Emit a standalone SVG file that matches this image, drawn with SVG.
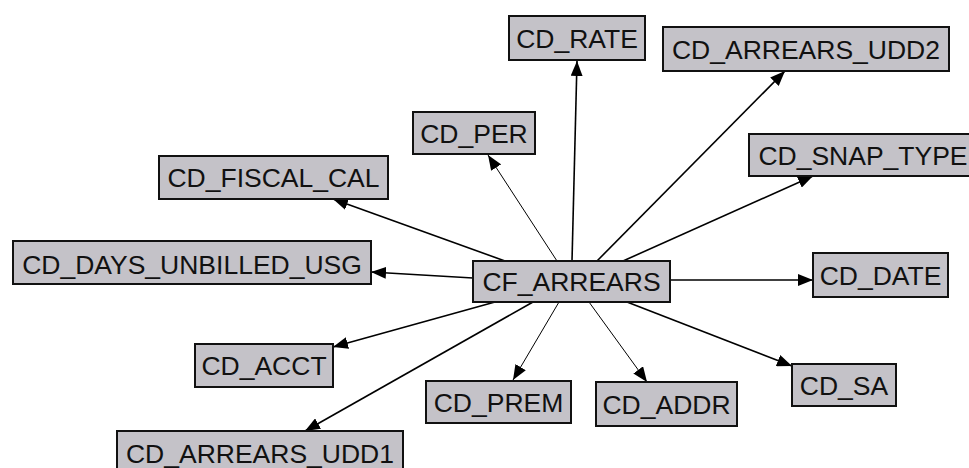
<svg xmlns="http://www.w3.org/2000/svg" width="969" height="468" viewBox="0 0 969 468">
<style>
.box{fill:#c4c2c8;stroke:#111;stroke-width:2}
.lbl{font-family:"Liberation Sans",Arial,sans-serif;font-size:26.5px;fill:#111;text-anchor:middle}
.e{stroke:#000;stroke-width:1.6;fill:none;marker-end:url(#ah)}
.t{stroke-width:1}
</style>
<defs>
<marker id="ah" markerUnits="userSpaceOnUse" markerWidth="16" markerHeight="12" refX="15" refY="6" orient="auto">
<path d="M0,0 L15,6 L0,12 z" fill="#000"/>
</marker>
</defs>
<rect width="969" height="468" fill="#fff"/>
<g id="edges">
<line class="e" x1="572" y1="261" x2="577" y2="61"/>
<line class="e t" x1="557" y1="261" x2="488" y2="155"/>
<line class="e" x1="597" y1="261" x2="785" y2="71"/>
<line class="e" x1="623" y1="261" x2="813" y2="176"/>
<line class="e" x1="505" y1="261" x2="333" y2="199"/>
<line class="e" x1="473" y1="278" x2="371" y2="272"/>
<line class="e" x1="670" y1="280" x2="813" y2="280"/>
<line class="e" x1="495" y1="302" x2="333" y2="347"/>
<line class="e" x1="533" y1="302" x2="305" y2="431"/>
<line class="e t" x1="559" y1="302" x2="513" y2="380"/>
<line class="e t" x1="589" y1="302" x2="647" y2="382"/>
<line class="e" x1="627" y1="302" x2="792" y2="366"/>
</g>
<g id="CF_ARREARS"><rect class="box" x="473" y="261" width="197" height="41"/><text class="lbl" x="571.5" y="291">CF_ARREARS</text></g>
<g id="CD_RATE"><rect class="box" x="509" y="16" width="136" height="44"/><text class="lbl" x="577" y="47.5">CD_RATE</text></g>
<g id="CD_ARREARS_UDD2"><rect class="box" x="663" y="27" width="286" height="44"/><text class="lbl" x="806" y="58.5">CD_ARREARS_UDD2</text></g>
<g id="CD_PER"><rect class="box" x="413" y="112" width="122" height="42"/><text class="lbl" x="474" y="142.5">CD_PER</text></g>
<g id="CD_SNAP_TYPE"><rect class="box" x="749" y="134" width="228" height="42"/><text class="lbl" x="863" y="164.5">CD_SNAP_TYPE</text></g>
<g id="CD_FISCAL_CAL"><rect class="box" x="159" y="156" width="229" height="43"/><text class="lbl" x="273.5" y="187">CD_FISCAL_CAL</text></g>
<g id="CD_DAYS_UNBILLED_USG"><rect class="box" x="13" y="241" width="358" height="43"/><text class="lbl" x="192" y="274">CD_DAYS_UNBILLED_USG</text></g>
<g id="CD_DATE"><rect class="box" x="813" y="253" width="135" height="44"/><text class="lbl" x="880.5" y="284.5">CD_DATE</text></g>
<g id="CD_ACCT"><rect class="box" x="195" y="344" width="138" height="43"/><text class="lbl" x="264" y="375">CD_ACCT</text></g>
<g id="CD_SA"><rect class="box" x="792" y="364" width="104" height="42"/><text class="lbl" x="844" y="394.5">CD_SA</text></g>
<g id="CD_PREM"><rect class="box" x="426" y="381" width="145" height="42"/><text class="lbl" x="498.5" y="411.5">CD_PREM</text></g>
<g id="CD_ADDR"><rect class="box" x="596" y="382" width="141" height="44"/><text class="lbl" x="666.5" y="413.5">CD_ADDR</text></g>
<g id="CD_ARREARS_UDD1"><rect class="box" x="117" y="431" width="286" height="44"/><text class="lbl" x="260" y="462.5">CD_ARREARS_UDD1</text></g>
</svg>
